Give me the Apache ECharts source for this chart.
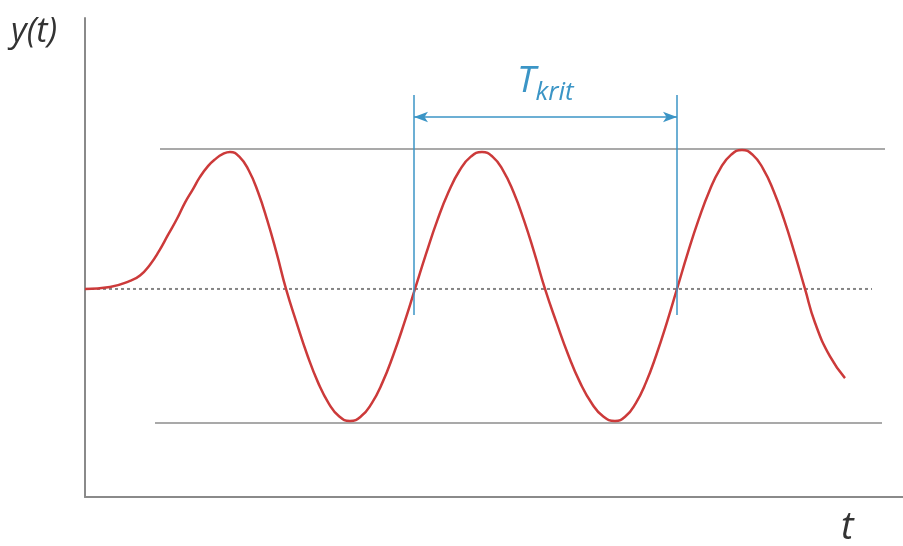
<!DOCTYPE html>
<html>
<head>
<meta charset="utf-8">
<script src="https://cdn.jsdelivr.net/npm/echarts@6/dist/echarts.min.js"></script>
<style>
html,body{margin:0;padding:0;background:#fff;}
#chart{width:903px;height:546px;}
</style>
</head>
<body>
<div id="chart"></div>
<script>
// Curve samples (t in arbitrary time units, y normalised to oscillation amplitude)
var curveT = [0, 2.5, 4.5, 5.5, 6.5, 7.4, 8.3, 9.2, 10.0, 10.8, 11.5, 12.3, 13.0, 13.8, 14.5,
  15.43, 16.37, 17.3, 18.23, 19.17, 20.1,
  21.17, 22.23, 23.3, 24.37, 25.43, 26.5,
  27.58, 28.67, 29.75, 30.83, 31.92, 33.0,
  34.12, 35.23, 36.35, 37.47, 38.58, 39.7,
  40.75, 41.8, 42.85, 43.9, 44.95, 46.0,
  47.17, 48.33, 49.5, 50.67, 51.83, 53.0,
  54.03, 55.07, 56.1, 57.13, 58.17, 59.2,
  60.28, 61.37, 62.45, 63.53, 64.62, 65.7,
  66.75, 67.8, 68.85, 69.9, 70.95, 72.0,
  73.0, 74.5, 76.0];
var curveY = [0, 0.015, 0.06, 0.10, 0.18, 0.28, 0.40, 0.52, 0.64, 0.74, 0.83, 0.91, 0.96, 1.0, 1.015,
  0.98, 0.879, 0.718, 0.508, 0.263, 0,
  -0.253, -0.489, -0.692, -0.847, -0.945, -0.978,
  -0.945, -0.847, -0.692, -0.489, -0.253, 0,
  0.263, 0.508, 0.718, 0.879, 0.98, 1.015,
  0.98, 0.879, 0.718, 0.508, 0.263, 0,
  -0.253, -0.489, -0.692, -0.847, -0.945, -0.978,
  -0.945, -0.847, -0.692, -0.489, -0.253, 0,
  0.267, 0.515, 0.728, 0.892, 0.995, 1.03,
  0.995, 0.892, 0.728, 0.515, 0.267, 0,
  -0.25, -0.50, -0.66];

// Reference lines
var upperLimitT = [7.5, 80.0];
var upperLimitY = 1.037;
var lowerLimitT = [7.0, 79.7];
var lowerLimitY = -0.993;
var centerLineT = [0, 78.7];
var centerLineY = 0;

// Critical period annotation
var tkritStart = 32.9;
var tkritEnd = 59.2;
var tkritBottom = -0.193;
var tkritTop = 1.437;
var tkritArrowY = 1.274;

// Axis ranges
var xMin = 0, xMax = 81.8;
var yMin = -1.541, yMax = 2.007;

function pairs(ts, ys) { return ts.map(function (t, i) { return [t, ys[i]]; }); }
function hline(ts, y) { return [[ts[0], y], [ts[1], y]]; }

var chart = echarts.init(document.getElementById('chart'), null, {renderer: 'canvas'});
var blue = '#3b95c6';
var option = {
  animation: false,
  backgroundColor: '#ffffff',
  grid: {left: 85, right: 0, top: 18, bottom: 49, containLabel: false},
  xAxis: {
    type: 'value', min: xMin, max: xMax,
    axisLine: {onZero: false, lineStyle: {color: '#8a8a8a', width: 2}},
    axisTick: {show: false}, axisLabel: {show: false}, splitLine: {show: false}
  },
  yAxis: {
    type: 'value', min: yMin, max: yMax,
    axisLine: {show: true, onZero: false, lineStyle: {color: '#8a8a8a', width: 2}},
    axisTick: {show: false}, axisLabel: {show: false}, splitLine: {show: false}
  },
  series: [
    {
      type: 'line', data: hline(upperLimitT, upperLimitY), symbol: 'none',
      lineStyle: {color: '#a9a9a9', width: 2}
    },
    {
      type: 'line', data: hline(lowerLimitT, lowerLimitY), symbol: 'none',
      lineStyle: {color: '#a9a9a9', width: 2}
    },
    {
      type: 'line', data: hline(centerLineT, centerLineY), symbol: 'none',
      lineStyle: {color: '#858585', width: 2, type: [3, 3]}
    },
    {
      type: 'line', data: pairs(curveT, curveY), symbol: 'none', smooth: 0.5,
      lineStyle: {color: '#cc3a3a', width: 2.5}, z: 3
    },
    {
      type: 'line', data: [], symbol: 'none', z: 4,
      markLine: {
        silent: true, symbol: ['none', 'none'], animation: false,
        lineStyle: {color: blue, width: 1.5, type: 'solid'},
        label: {show: false},
        data: [
          [{coord: [tkritStart, tkritBottom]}, {coord: [tkritStart, tkritTop]}],
          [{coord: [tkritEnd, tkritBottom]}, {coord: [tkritEnd, tkritTop]}],
          [{coord: [tkritStart, tkritArrowY], symbol: 'arrow', symbolSize: [8, 14]},
           {coord: [tkritEnd, tkritArrowY], symbol: 'arrow', symbolSize: [8, 14]}]
        ]
      }
    }
  ],
  graphic: [
    {
      type: 'text', left: 11, top: 15,
      style: {text: 'y(t)', font: 'italic 34px "Open Sans", "DejaVu Sans", sans-serif', fill: '#333333'}
    },
    {
      type: 'text', left: 841, top: 509,
      style: {text: 't', font: 'italic 38px "Open Sans", "DejaVu Sans", sans-serif', fill: '#333333'}
    },
    {
      type: 'text', left: 517, top: 63,
      style: {
        text: '{a|T}{b|krit}',
        rich: {
          a: {font: 'italic 37px "Open Sans", sans-serif', fill: blue, verticalAlign: 'bottom'},
          b: {font: 'italic 26px "Open Sans", sans-serif', fill: blue, verticalAlign: 'bottom', padding: [0, 0, -6, 0]}
        }
      }
    }
  ]
};
chart.setOption(option);
</script>
</body>
</html>
